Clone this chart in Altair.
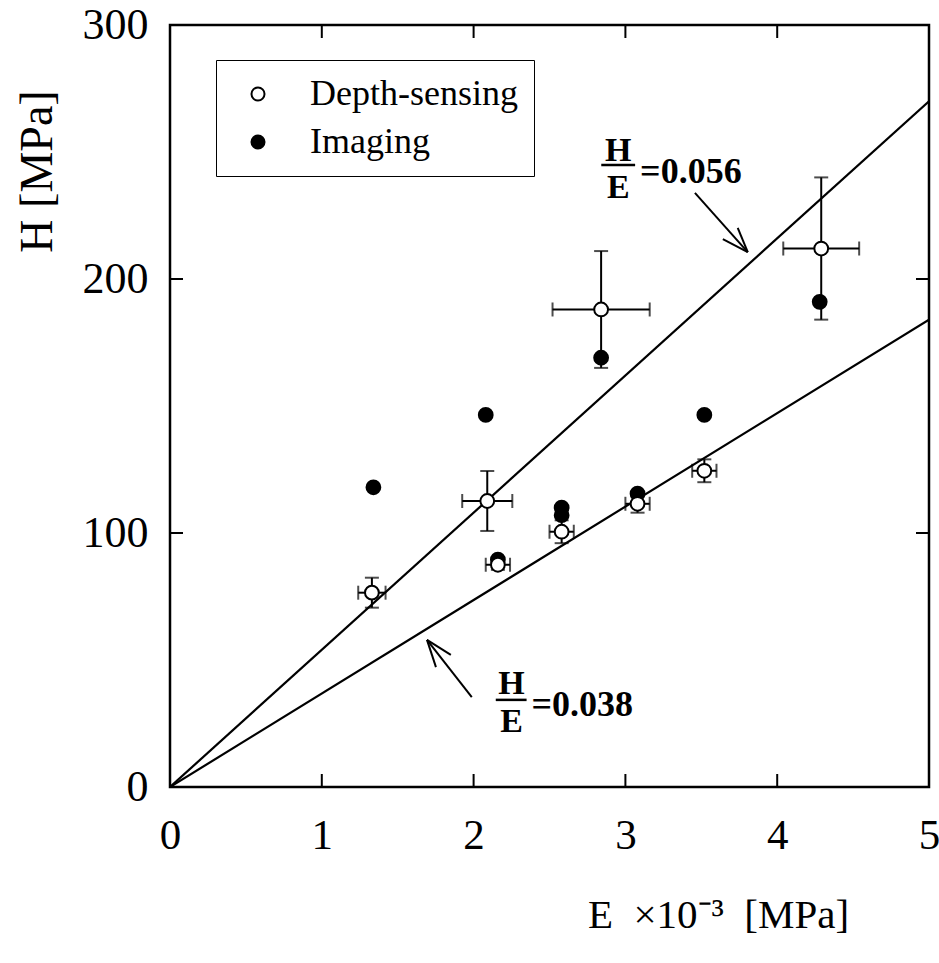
import altair as alt
import pandas as pd

# ---------------- data ----------------
# Depth-sensing (open circles) with error bars
E_depth = [1.33, 2.09, 2.16, 2.58, 3.08, 3.52, 2.84, 4.29]
H_depth = [76.5, 112.6, 87.5, 100.5, 111.5, 124.5, 188.0, 212.0]
E_err_depth = [0.09, 0.165, 0.08, 0.08, 0.08, 0.08, 0.32, 0.25]
H_err_depth = [5.9, 11.8, 2.0, 4.5, 3.5, 4.5, 23.0, 28.0]

# Imaging (filled circles)
E_img = [1.34, 2.08, 2.16, 2.58, 2.58, 2.84, 3.08, 3.52, 4.28]
H_img = [118.0, 146.5, 89.5, 110.0, 107.0, 169.0, 115.5, 146.5, 191.0]

# reference lines H = (H/E) * E, as drawn
line_names = ["H/E=0.056", "H/E=0.038"]
line_E = [0, 5]
line_H_056 = [0, 270]
line_H_038 = [0, 184]

x_ticks = [0, 1, 2, 3, 4, 5]
y_ticks = [0, 100, 200, 300]
x_inner_ticks = [1, 2, 3, 4]
y_inner_ticks = [100, 200]

# annotation pieces (data coordinates)
frac_num = ["H", "H"]
frac_den = ["E", "E"]
frac_x = [2.953, 2.25]
frac_num_y = [250.5, 40.6]
frac_den_y = [235.8, 25.6]
frac_bar_x1 = [2.841, 2.146]
frac_bar_x2 = [3.064, 2.349]
frac_bar_y = [244.9, 34.3]
value_text = ["=0.056", "=0.038"]
value_x = [3.097, 2.382]
value_y = [242.1, 32.3]
# arrows: shaft and two barbs (start -> end)
arrow_x1 = [3.458, 3.806, 3.806, 1.988, 1.693, 1.693]
arrow_y1 = [233.9, 210.6, 210.6, 35.4, 57.9, 57.9]
arrow_x2 = [3.806, 3.642, 3.740, 1.693, 1.850, 1.752]
arrow_y2 = [210.6, 215.7, 220.1, 57.9, 52.0, 47.2]

# ---------------- tables ----------------
W, H = 759, 762
FONT = "Liberation Serif"

pts = pd.DataFrame({
    "E": E_img + E_depth,
    "H": H_img + H_depth,
    "method": ["Imaging"] * len(E_img) + ["Depth-sensing"] * len(E_depth),
    "order": list(range(len(E_img) + len(E_depth))),
})
err = pd.DataFrame({
    "E": E_depth, "H": H_depth,
    "Elo": [e - d for e, d in zip(E_depth, E_err_depth)],
    "Ehi": [e + d for e, d in zip(E_depth, E_err_depth)],
    "Hlo": [h - d for h, d in zip(H_depth, H_err_depth)],
    "Hhi": [h + d for h, d in zip(H_depth, H_err_depth)],
})
lines = pd.DataFrame({
    "E": line_E + line_E,
    "H": line_H_056 + line_H_038,
    "name": [line_names[0]] * 2 + [line_names[1]] * 2,
})
frac = pd.DataFrame({
    "x": frac_x, "num": frac_num, "den": frac_den,
    "ny": frac_num_y, "dy": frac_den_y,
    "bx1": frac_bar_x1, "bx2": frac_bar_x2, "by": frac_bar_y,
    "val": value_text, "vx": value_x, "vy": value_y,
})
arrows = pd.DataFrame({"x1": arrow_x1, "y1": arrow_y1, "x2": arrow_x2, "y2": arrow_y2})
xt = pd.DataFrame({"t": x_inner_ticks})
yt = pd.DataFrame({"t": y_inner_ticks})

xscale = alt.Scale(domain=[0, 5], nice=False, zero=False)
yscale = alt.Scale(domain=[0, 300], nice=False, zero=False)

xaxis = alt.Axis(
    values=x_ticks, format="d", ticks=False, domain=False, grid=False,
    labelFont=FONT, labelFontSize=43, labelColor="black", labelPadding=27,
    labelFlush=False,
    title="E\u2002×10⁻³\u2002[MPa]", titleFont=FONT, titleFontSize=41,
    titleFontWeight="normal", titleColor="black",
    titleX=548, titleY=128, titleAlign="center", titleBaseline="middle",
    titleAnchor="start",
)
yaxis = alt.Axis(
    values=y_ticks, format="d", ticks=False, domain=False, grid=False,
    labelFont=FONT, labelFontSize=44, labelColor="black", labelPadding=22,
    labelFlush=False,
    title="H [MPa]", titleFont=FONT, titleFontSize=46,
    titleFontWeight="normal", titleColor="black",
    titleX=-133, titleY=146, titleAlign="center", titleBaseline="middle",
    titleAnchor="start", titleAngle=270,
)

base_x = alt.X("E:Q", scale=xscale, axis=xaxis)
base_y = alt.Y("H:Q", scale=yscale, axis=yaxis)

line_layer = alt.Chart(lines).mark_line(color="black", strokeWidth=2.2, clip=True).encode(
    x=base_x, y=base_y, detail="name:N"
)

err_x = alt.Chart(err).mark_rule(color="black", strokeWidth=2).encode(
    x=alt.X("Elo:Q", scale=xscale), x2="Ehi:Q", y=alt.Y("H:Q", scale=yscale)
)
err_y = alt.Chart(err).mark_rule(color="black", strokeWidth=2).encode(
    x=alt.X("E:Q", scale=xscale), y=alt.Y("Hlo:Q", scale=yscale), y2="Hhi:Q"
)
cap_ylo = alt.Chart(err).mark_tick(color="black", orient="horizontal", size=14, thickness=2).encode(
    x=alt.X("E:Q", scale=xscale), y=alt.Y("Hlo:Q", scale=yscale)
)
cap_yhi = alt.Chart(err).mark_tick(color="black", orient="horizontal", size=14, thickness=2).encode(
    x=alt.X("E:Q", scale=xscale), y=alt.Y("Hhi:Q", scale=yscale)
)
cap_xlo = alt.Chart(err).mark_tick(color="black", orient="vertical", size=14, thickness=2).encode(
    x=alt.X("Elo:Q", scale=xscale), y=alt.Y("H:Q", scale=yscale)
)
cap_xhi = alt.Chart(err).mark_tick(color="black", orient="vertical", size=14, thickness=2).encode(
    x=alt.X("Ehi:Q", scale=xscale), y=alt.Y("H:Q", scale=yscale)
)

point_layer = alt.Chart(pts).mark_point(
    shape="circle", filled=True, stroke="black", strokeWidth=2, size=190, opacity=1
).encode(
    x=alt.X("E:Q", scale=xscale),
    y=alt.Y("H:Q", scale=yscale),
    fill=alt.Fill(
        "method:N",
        scale=alt.Scale(domain=["Depth-sensing", "Imaging"], range=["white", "black"]),
        legend=alt.Legend(
            title=None, orient="none", legendX=46, legendY=35,
            strokeColor="black", padding=16, fillColor="white",
            labelFont=FONT, labelFontSize=36, labelColor="black", labelLimit=500,
            labelOffset=34, symbolOffset=8, symbolSize=170,
            symbolStrokeColor="black", symbolStrokeWidth=2, symbolType="circle",
            rowPadding=12,
        ),
    ),
    order="order:Q",
)

# inward tick marks on all four sides
tick_bottom = alt.Chart(xt).mark_rule(color="black", strokeWidth=2).encode(
    x=alt.X("t:Q", scale=xscale), y=alt.value(H), y2=alt.value(H - 13)
)
tick_top = alt.Chart(xt).mark_rule(color="black", strokeWidth=2).encode(
    x=alt.X("t:Q", scale=xscale), y=alt.value(0), y2=alt.value(13)
)
tick_left = alt.Chart(yt).mark_rule(color="black", strokeWidth=2).encode(
    y=alt.Y("t:Q", scale=yscale), x=alt.value(0), x2=alt.value(13)
)
tick_right = alt.Chart(yt).mark_rule(color="black", strokeWidth=2).encode(
    y=alt.Y("t:Q", scale=yscale), x=alt.value(W), x2=alt.value(W - 13)
)

num_layer = alt.Chart(frac).mark_text(
    font=FONT, fontSize=34, fontWeight="bold", color="black", align="center", baseline="middle"
).encode(x=alt.X("x:Q", scale=xscale), y=alt.Y("ny:Q", scale=yscale), text="num:N")
den_layer = alt.Chart(frac).mark_text(
    font=FONT, fontSize=34, fontWeight="bold", color="black", align="center", baseline="middle"
).encode(x=alt.X("x:Q", scale=xscale), y=alt.Y("dy:Q", scale=yscale), text="den:N")
bar_layer = alt.Chart(frac).mark_rule(color="black", strokeWidth=2.5).encode(
    x=alt.X("bx1:Q", scale=xscale), x2="bx2:Q", y=alt.Y("by:Q", scale=yscale)
)
val_layer = alt.Chart(frac).mark_text(
    font=FONT, fontSize=36, fontWeight="bold", color="black", align="left", baseline="middle"
).encode(x=alt.X("vx:Q", scale=xscale), y=alt.Y("vy:Q", scale=yscale), text="val:N")
arrow_layer = alt.Chart(arrows).mark_rule(color="black", strokeWidth=2).encode(
    x=alt.X("x1:Q", scale=xscale), y=alt.Y("y1:Q", scale=yscale), x2="x2:Q", y2="y2:Q"
)

chart = alt.layer(
    line_layer, err_x, err_y, cap_ylo, cap_yhi, cap_xlo, cap_xhi,
    point_layer,
    tick_bottom, tick_top, tick_left, tick_right,
    bar_layer, num_layer, den_layer, val_layer, arrow_layer,
).properties(
    width=W, height=H,
    autosize=alt.AutoSizeParams(type="none"),
    padding={"left": 170, "top": 25, "right": 10, "bottom": 176},
    background="white",
).configure_view(
    stroke="black", strokeWidth=2.5, fill="white"
)

chart.save("out.html", embed_options={"renderer": "svg", "actions": False})
